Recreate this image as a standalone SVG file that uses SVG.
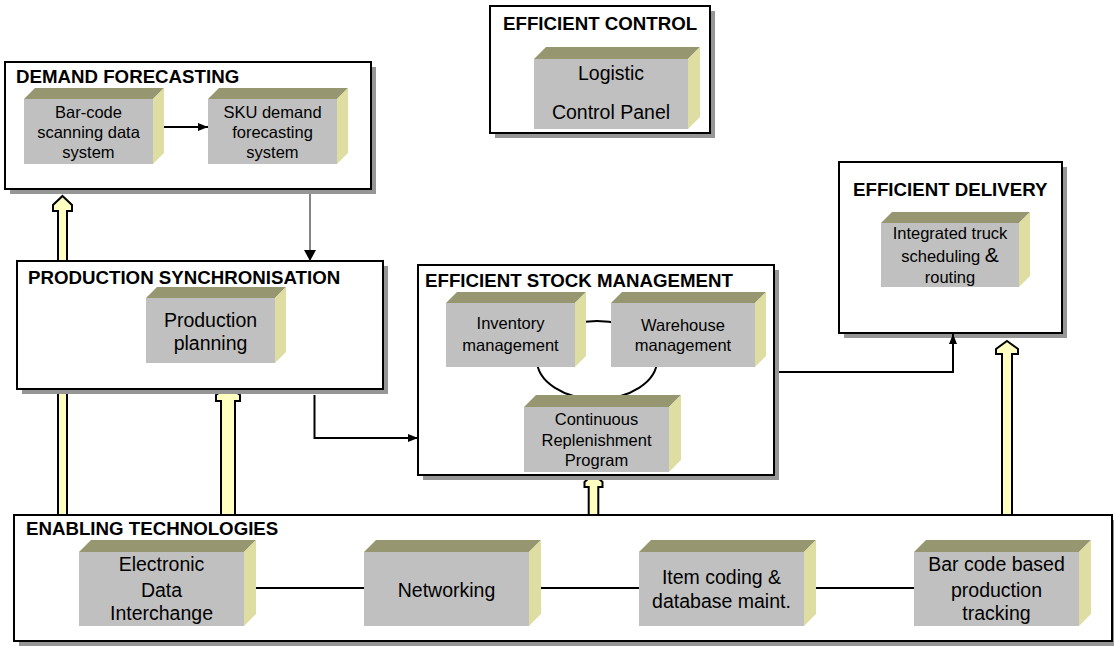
<svg xmlns="http://www.w3.org/2000/svg" width="1114" height="646" viewBox="0 0 1114 646">
  <defs>
    <style>
      .frame { fill: #ffffff; stroke: #000000; stroke-width: 2; }
      .shadow { fill: #969696; }
      .title { font-family: "Liberation Sans", Arial, sans-serif; font-weight: bold; font-size: 18.7px; fill: #000; }
      .front { fill: #c0c0c0; }
      .top { fill: #969670; }
      .side { fill: #dedea2; }
      .lbl { font-family: "Liberation Sans", Arial, sans-serif; font-size: 16.5px; fill: #000; text-anchor: middle; }
      .lbl-lg { font-family: "Liberation Sans", Arial, sans-serif; font-size: 19.5px; fill: #000; text-anchor: middle; }
      .fat { fill: #ffffc0; stroke: #000; stroke-width: 2; stroke-linejoin: miter; }
      .link { fill: none; stroke: #000; stroke-width: 2; }
      .thin { fill: none; stroke: #333; stroke-width: 1.2; }
    </style>
    <marker id="head" viewBox="0 0 10 8" refX="10" refY="4" markerWidth="10" markerHeight="8" markerUnits="userSpaceOnUse" orient="auto">
      <path d="M0,0 L10,4 L0,8 Z" fill="#000"/>
    </marker>
    <marker id="head-big" viewBox="0 0 11 12" refX="11" refY="6" markerWidth="11" markerHeight="12" markerUnits="userSpaceOnUse" orient="auto">
      <path d="M0,0 L11,6 L0,12 Z" fill="#000"/>
    </marker>
  </defs>

  <!-- wide hollow arrows from the technology layer, drawn beneath the panels -->
  <g id="support-arrows">
    <polygon class="fat" points="62.5,196 72,205 72,211 67,211 67,518 58,518 58,211 53,211 53,205"/>
    <polygon class="fat" points="228,386 240,395 240,401 235,401 235,518 221,518 221,401 216,401 216,395"/>
    <polygon class="fat" points="593.5,474 602.5,482 602.5,487 598.3,487 598.3,518 588.7,518 588.7,487 584.5,487 584.5,482"/>
    <polygon class="fat" points="1007,341 1018,349 1018,354 1012,354 1012,518 1002,518 1002,354 996,354 996,349"/>
  </g>

  <!-- panel frames with drop shadows -->
  <g id="demand-forecasting">
    <rect class="shadow" x="10" y="67" width="366" height="127"/>
    <rect class="frame" x="5" y="62" width="366" height="127"/>
    <text class="title" x="16" y="83">DEMAND FORECASTING</text>
  </g>
  <g id="efficient-control">
    <rect class="shadow" x="495" y="11" width="220" height="127"/>
    <rect class="frame" x="490" y="6" width="220" height="127"/>
    <text class="title" x="503" y="30">EFFICIENT CONTROL</text>
  </g>
  <g id="production-synchronisation">
    <rect class="shadow" x="22" y="266" width="366" height="128"/>
    <rect class="frame" x="17" y="261" width="366" height="128"/>
    <text class="title" x="28" y="284">PRODUCTION SYNCHRONISATION</text>
  </g>
  <g id="efficient-stock-management">
    <rect class="shadow" x="423" y="270" width="356" height="210"/>
    <rect class="frame" x="418" y="265" width="356" height="210"/>
    <text class="title" x="425" y="287">EFFICIENT STOCK MANAGEMENT</text>
  </g>
  <g id="efficient-delivery">
    <rect class="shadow" x="844" y="167" width="223" height="171"/>
    <rect class="frame" x="839" y="162" width="223" height="171"/>
    <text class="title" x="853" y="196">EFFICIENT DELIVERY</text>
  </g>
  <g id="enabling-technologies">
    <rect class="shadow" x="19" y="520" width="1098" height="126"/>
    <rect class="frame" x="14" y="515" width="1098" height="126"/>
    <text class="title" x="26" y="535">ENABLING TECHNOLOGIES</text>
  </g>

  <!-- connectors -->
  <g id="connectors">
    <line class="link" x1="163" y1="127" x2="208" y2="127" marker-end="url(#head)"/>
    <line class="thin" x1="310" y1="194" x2="310" y2="261" marker-end="url(#head-big)"/>
    <polyline class="link" points="314.5,395 314.5,438 418,438" marker-end="url(#head)"/>
    <polyline class="link" points="779,372 953,372 953,334" marker-end="url(#head)"/>
    <ellipse class="link" cx="597" cy="360" rx="60" ry="39"/>
    <line class="link" x1="250" y1="588" x2="920" y2="588"/>
  </g>

  <!-- 3D blocks -->
  <g id="barcode-scanning">
    <polygon class="top" points="24,99 35,88 164,88 153,99"/>
    <polygon class="side" points="153,99 164,88 164,153 153,164"/>
    <rect class="front" x="24" y="99" width="129" height="65"/>
    <text class="lbl" x="88.5" y="118">Bar-code</text>
    <text class="lbl" x="88.5" y="138">scanning data</text>
    <text class="lbl" x="88.5" y="158">system</text>
  </g>
  <g id="sku-forecasting">
    <polygon class="top" points="208,99 219,88 348,88 337,99"/>
    <polygon class="side" points="337,99 348,88 348,153 337,164"/>
    <rect class="front" x="208" y="99" width="129" height="65"/>
    <text class="lbl" x="272.5" y="118">SKU demand</text>
    <text class="lbl" x="272.5" y="138">forecasting</text>
    <text class="lbl" x="272.5" y="158">system</text>
  </g>
  <g id="logistic-control-panel">
    <polygon class="top" points="534,59 546,47 700,47 688,59"/>
    <polygon class="side" points="688,59 700,47 700,117 688,129"/>
    <rect class="front" x="534" y="59" width="154" height="70"/>
    <text class="lbl-lg" x="611" y="80">Logistic</text>
    <text class="lbl-lg" x="611" y="119">Control Panel</text>
  </g>
  <g id="production-planning">
    <polygon class="top" points="146,298 157,287 286,287 275,298"/>
    <polygon class="side" points="275,298 286,287 286,352 275,363"/>
    <rect class="front" x="146" y="298" width="129" height="65"/>
    <text class="lbl-lg" x="210.5" y="327">Production</text>
    <text class="lbl-lg" x="210.5" y="350">planning</text>
  </g>
  <g id="inventory-management">
    <polygon class="top" points="446,303 457,292 586,292 575,303"/>
    <polygon class="side" points="575,303 586,292 586,356 575,367"/>
    <rect class="front" x="446" y="303" width="129" height="64"/>
    <text class="lbl" x="510.5" y="329">Inventory</text>
    <text class="lbl" x="510.5" y="351">management</text>
  </g>
  <g id="warehouse-management">
    <polygon class="top" points="611,303 622,292 766,292 755,303"/>
    <polygon class="side" points="755,303 766,292 766,356 755,367"/>
    <rect class="front" x="611" y="303" width="144" height="64"/>
    <text class="lbl" x="683" y="331">Warehouse</text>
    <text class="lbl" x="683" y="351">management</text>
  </g>
  <g id="continuous-replenishment">
    <polygon class="top" points="524,407 536,395 681,395 669,407"/>
    <polygon class="side" points="669,407 681,395 681,460 669,472"/>
    <rect class="front" x="524" y="407" width="145" height="65"/>
    <text class="lbl" x="596.5" y="425">Continuous</text>
    <text class="lbl" x="596.5" y="446">Replenishment</text>
    <text class="lbl" x="596.5" y="466">Program</text>
  </g>
  <g id="truck-scheduling">
    <polygon class="top" points="881,223 892,212 1030,212 1019,223"/>
    <polygon class="side" points="1019,223 1030,212 1030,276 1019,287"/>
    <rect class="front" x="881" y="223" width="138" height="64"/>
    <text class="lbl" x="950" y="239">Integrated truck</text>
    <text class="lbl" x="950" y="262">scheduling <tspan font-size="21px">&amp;</tspan></text>
    <text class="lbl" x="950" y="283">routing</text>
  </g>
  <g id="edi">
    <polygon class="top" points="79,552 91,540 256,540 244,552"/>
    <polygon class="side" points="244,552 256,540 256,614 244,626"/>
    <rect class="front" x="79" y="552" width="165" height="74"/>
    <text class="lbl-lg" x="161.5" y="571">Electronic</text>
    <text class="lbl-lg" x="161.5" y="597">Data</text>
    <text class="lbl-lg" x="161.5" y="620">Interchange</text>
  </g>
  <g id="networking">
    <polygon class="top" points="364,552 376,540 541,540 529,552"/>
    <polygon class="side" points="529,552 541,540 541,614 529,626"/>
    <rect class="front" x="364" y="552" width="165" height="74"/>
    <text class="lbl-lg" x="446.5" y="597">Networking</text>
  </g>
  <g id="item-coding">
    <polygon class="top" points="639,552 651,540 816,540 804,552"/>
    <polygon class="side" points="804,552 816,540 816,614 804,626"/>
    <rect class="front" x="639" y="552" width="165" height="74"/>
    <text class="lbl-lg" x="721.5" y="584">Item coding &amp;</text>
    <text class="lbl-lg" x="721.5" y="608">database maint.</text>
  </g>
  <g id="barcode-tracking">
    <polygon class="top" points="914,552 926,540 1091,540 1079,552"/>
    <polygon class="side" points="1079,552 1091,540 1091,614 1079,626"/>
    <rect class="front" x="914" y="552" width="165" height="74"/>
    <text class="lbl-lg" x="996.5" y="571">Bar code based</text>
    <text class="lbl-lg" x="996.5" y="597">production</text>
    <text class="lbl-lg" x="996.5" y="620">tracking</text>
  </g>
</svg>
